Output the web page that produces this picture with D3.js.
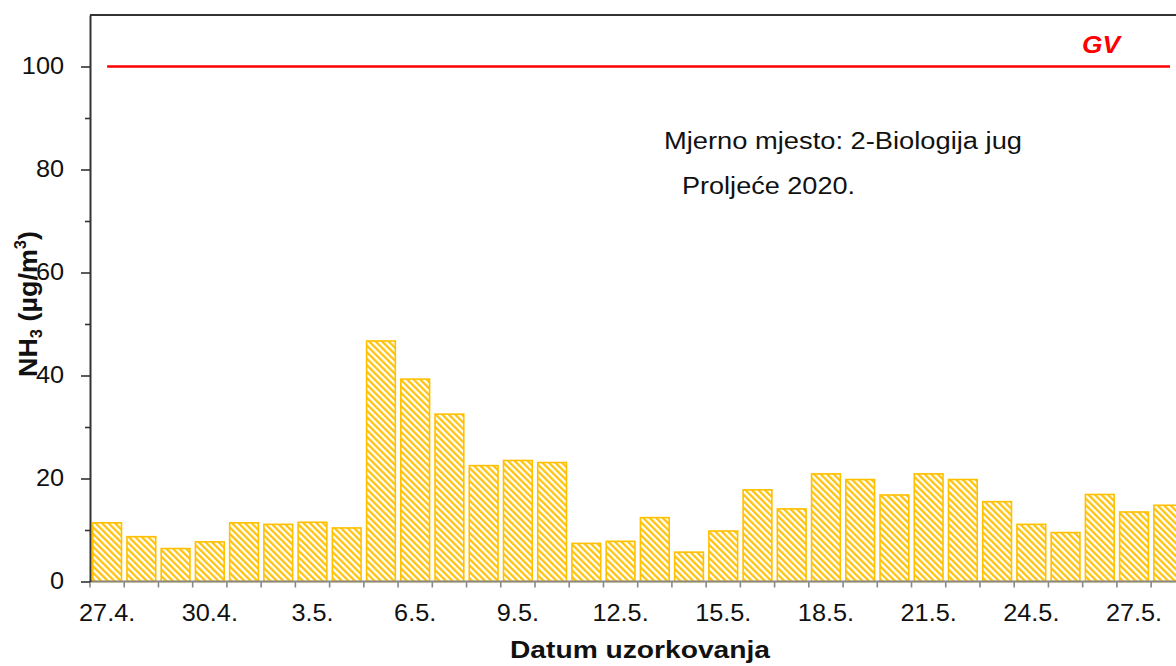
<!DOCTYPE html>
<html>
<head>
<meta charset="utf-8">
<script src="https://cdn.jsdelivr.net/npm/d3@7"></script>
<style>
  body { margin: 0; background: #fff; }
  svg { display: block; font-family: "Liberation Sans", Arial, sans-serif; }
</style>
</head>
<body>
<div id="chart"></div>
<script>
// datumi uzorkovanja (zadnji stupac je odrezan na rubu slike)
const dates = ["27.4.", "28.4.", "29.4.", "30.4.", "1.5.", "2.5.", "3.5.", "4.5.", "5.5.", "6.5.",
  "7.5.", "8.5.", "9.5.", "10.5.", "11.5.", "12.5.", "13.5.", "14.5.", "15.5.", "16.5.",
  "17.5.", "18.5.", "19.5.", "20.5.", "21.5.", "22.5.", "23.5.", "24.5.", "25.5.", "26.5.",
  "27.5.", "28.5."];
// NH3 koncentracije (µg/m3)
const nh3 = [11.4, 8.7, 6.4, 7.7, 11.4, 11.1, 11.5, 10.4, 46.7, 39.3,
  32.5, 22.5, 23.5, 23.1, 7.4, 7.8, 12.4, 5.7, 9.8, 17.8,
  14.1, 20.9, 19.8, 16.8, 20.9, 19.8, 15.5, 11.1, 9.5, 16.9,
  13.5, 14.8];
const gv = 100;
const majorTicks = [0, 20, 40, 60, 80, 100];
const minorTicks = [10, 30, 50, 70, 90];
const labelEvery = 3;

const W = 1176, H = 666;
const plotLeft = 90, plotTop = 15, plotBottom = 581.5;
const step = 34.23;
const stretch = 1.1; // tekst u originalu je malo razvucen vodoravno

const svg = d3.select("#chart").append("svg")
  .attr("width", W).attr("height", H);

// srafura za stupce
const defs = svg.append("defs");
const pat = defs.append("pattern")
  .attr("id", "hatch")
  .attr("patternUnits", "userSpaceOnUse")
  .attr("width", 4.6).attr("height", 4.6)
  .attr("patternTransform", "rotate(-45)");
pat.append("rect").attr("width", 4.6).attr("height", 4.6).attr("fill", "#fff");
pat.append("line")
  .attr("x1", 1.2).attr("y1", 0).attr("x2", 1.2).attr("y2", 4.6)
  .attr("stroke", "#FFC000").attr("stroke-width", 2.2);

const x = d3.scaleBand()
  .domain(dates)
  .range([plotLeft, plotLeft + step * dates.length])
  .paddingInner(0.16)
  .paddingOuter(0.08);

const y = d3.scaleLinear().domain([0, 110]).range([plotBottom, plotTop]);

// stupci
svg.append("g").selectAll("rect")
  .data(nh3)
  .join("rect")
  .attr("x", (d, i) => x(dates[i]))
  .attr("y", d => y(d))
  .attr("width", x.bandwidth())
  .attr("height", d => y(0) - y(d))
  .attr("fill", "url(#hatch)")
  .attr("stroke", "#FFC000")
  .attr("stroke-width", 1.6);

// granicna vrijednost
svg.append("line")
  .attr("x1", x(dates[0]) + x.bandwidth() / 2)
  .attr("x2", 1170)
  .attr("y1", y(gv)).attr("y2", y(gv))
  .attr("stroke", "#ff0000")
  .attr("stroke-width", 2.6);
svg.append("text")
  .attr("x", 1082).attr("y", 53)
  .attr("fill", "#ff0000")
  .attr("font-size", 24)
  .attr("font-weight", "bold")
  .attr("font-style", "italic")
  .attr("textLength", 38)
  .attr("lengthAdjust", "spacingAndGlyphs")
  .text("GV");

// gornji rub
svg.append("line")
  .attr("x1", plotLeft).attr("x2", W)
  .attr("y1", plotTop).attr("y2", plotTop)
  .attr("stroke", "#333").attr("stroke-width", 1.8);

// x os
svg.append("line")
  .attr("x1", plotLeft).attr("x2", W)
  .attr("y1", plotBottom).attr("y2", plotBottom)
  .attr("stroke", "#888").attr("stroke-width", 1.8);
const bounds = dates.map((d, i) => plotLeft + i * x.step());
svg.append("g").selectAll("line")
  .data(bounds)
  .join("line")
  .attr("x1", d => d).attr("x2", d => d)
  .attr("y1", plotBottom).attr("y2", plotBottom + 6)
  .attr("stroke", "#888").attr("stroke-width", 1.6);

const xAxis = svg.append("g")
  .attr("transform", `translate(0,${plotBottom})`)
  .call(d3.axisBottom(x)
    .tickValues(dates.filter((d, i) => i % labelEvery === 0))
    .tickSize(0)
    .tickPadding(23));
xAxis.select(".domain").remove();
xAxis.selectAll("text")
  .attr("font-size", 23)
  .attr("font-family", "Liberation Sans, Arial, sans-serif")
  .attr("fill", "#111")
  .attr("transform", `scale(${stretch},1)`);

// y os
const yAxis = svg.append("g")
  .attr("transform", `translate(${plotLeft},0)`)
  .call(d3.axisLeft(y).tickValues(majorTicks).tickSize(9).tickSizeOuter(0));
yAxis.select(".domain").attr("stroke", "#333").attr("stroke-width", 2);
yAxis.selectAll(".tick line").attr("stroke", "#333").attr("stroke-width", 1.6);
yAxis.selectAll("text")
  .attr("font-size", 23)
  .attr("font-family", "Liberation Sans, Arial, sans-serif")
  .attr("fill", "#111")
  .attr("x", -26 / stretch)
  .attr("transform", `scale(${stretch},1)`);

const yMinor = svg.append("g")
  .attr("transform", `translate(${plotLeft},0)`)
  .call(d3.axisLeft(y).tickValues(minorTicks).tickSize(5).tickFormat(""));
yMinor.select(".domain").remove();
yMinor.selectAll(".tick line").attr("stroke", "#333").attr("stroke-width", 1.6);

// naslovi osi
svg.append("text")
  .attr("x", 510).attr("y", 658)
  .attr("font-size", 23)
  .attr("font-weight", "bold")
  .attr("fill", "#111")
  .attr("textLength", 260)
  .attr("lengthAdjust", "spacingAndGlyphs")
  .text("Datum uzorkovanja");

const yl = svg.append("text")
  .attr("transform", "translate(37,377) rotate(-90)")
  .attr("font-size", 26)
  .attr("font-weight", "bold")
  .attr("fill", "#111")
  .attr("textLength", 146)
  .attr("lengthAdjust", "spacingAndGlyphs");
yl.append("tspan").text("NH");
yl.append("tspan").attr("font-size", 16).attr("dy", 5).text("3");
yl.append("tspan").attr("dy", -5).text(" (µg/m");
yl.append("tspan").attr("font-size", 16).attr("dy", -11).text("3");
yl.append("tspan").attr("dy", 11).text(")");

// opis mjernog mjesta
svg.append("text")
  .attr("x", 664).attr("y", 149)
  .attr("font-size", 23)
  .attr("fill", "#111")
  .attr("textLength", 358)
  .attr("lengthAdjust", "spacingAndGlyphs")
  .text("Mjerno mjesto: 2-Biologija jug");
svg.append("text")
  .attr("x", 682).attr("y", 194)
  .attr("font-size", 23)
  .attr("fill", "#111")
  .attr("textLength", 173)
  .attr("lengthAdjust", "spacingAndGlyphs")
  .text("Proljeće 2020.");
</script>
</body>
</html>
